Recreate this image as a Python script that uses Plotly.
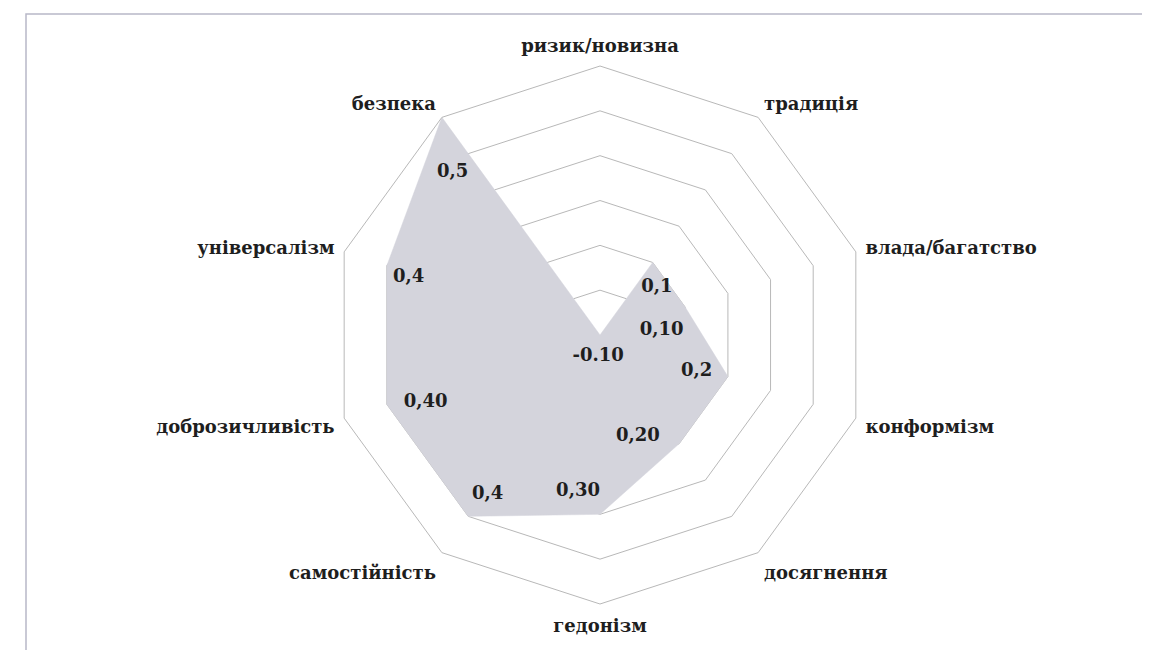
import plotly.graph_objects as go

# ---- data ----
categories = ["ризик/новизна", "традиція", "влада/багатство", "конформізм",
              "досягнення", "гедонізм", "самостійність", "доброзичливість",
              "універсалізм", "безпека"]
values = [-0.10, 0.10, 0.10, 0.20, 0.20, 0.30, 0.40, 0.40, 0.40, 0.50]
data_labels = ["-0.10", "0,1", "0,10", "0,2", "0,20", "0,30", "0,4", "0,40", "0,4", "0,5"]
radial_range = [-0.1, 0.5]

# ---- label placement (offsets from each point, style only) ----
label_dr = [0.049, -0.034, -0.062, -0.069, -0.058, -0.048, -0.065, -0.083, -0.054, -0.111]
label_dtheta = [185, 13.9, 13.4, 2.9, 15.6, 8, -0.8, -3.2, -1.2, -6.2]

W, H = 1150, 650
off = 8  # page body margin
cx, cy, R = 600 - off, 335 - off, 269

step = 360 / len(categories)
thetas = [i * step for i in range(len(categories))]

serif = "DejaVu Serif"

fig = go.Figure()
fig.add_trace(go.Scatterpolar(
    r=values + values[:1], theta=categories + categories[:1],
    mode="lines", fill="toself", fillcolor="#d4d4dc",
    line=dict(color="#d4d4dc", width=0.5), hoverinfo="skip", showlegend=False,
    subplot="polar"))

fig.add_trace(go.Scatterpolar(
    r=[v + d for v, d in zip(values, label_dr)],
    theta=[t + d for t, d in zip(thetas, label_dtheta)],
    mode="text", text=data_labels,
    textfont=dict(family=serif, size=18, color="#1e1e1e", weight="bold"),
    hoverinfo="skip", showlegend=False, subplot="polar2"))

grid = "#b8b8b8"
domain = dict(x=[(cx - R) / W, (cx + R) / W], y=[1 - (cy + R) / H, 1 - (cy - R) / H])
fig.update_layout(
    width=W, height=H, autosize=False,
    margin=dict(l=0, r=0, t=0, b=0),
    paper_bgcolor="white", plot_bgcolor="white",
    polar=dict(
        domain=domain,
        bgcolor="white",
        gridshape="linear",
        radialaxis=dict(range=radial_range, dtick=0.1, tick0=-0.1, showticklabels=False,
                        ticks="", showline=False, gridcolor=grid, gridwidth=1),
        angularaxis=dict(type="category", rotation=90, direction="clockwise",
                         showgrid=False,
                         showline=True, linecolor=grid, linewidth=1,
                         ticks="outside", ticklen=6, tickcolor="rgba(0,0,0,0)",
                         tickfont=dict(family=serif, size=18, color="#1e1e1e",
                                       weight="bold")),
    ),
    polar2=dict(
        domain=domain,
        bgcolor="rgba(0,0,0,0)",
        radialaxis=dict(range=radial_range, visible=False, showgrid=False),
        angularaxis=dict(rotation=90, direction="clockwise", visible=False,
                         showgrid=False, showline=False, showticklabels=False),
    ),
    shapes=[dict(type="rect", xref="paper", yref="paper",
                 x0=(26 - off) / W, x1=1.02, y0=-0.02, y1=1 - (14 - off) / H,
                 line=dict(color="#b8b8c8", width=1.5))],
)

fig.write_html("out.html")
